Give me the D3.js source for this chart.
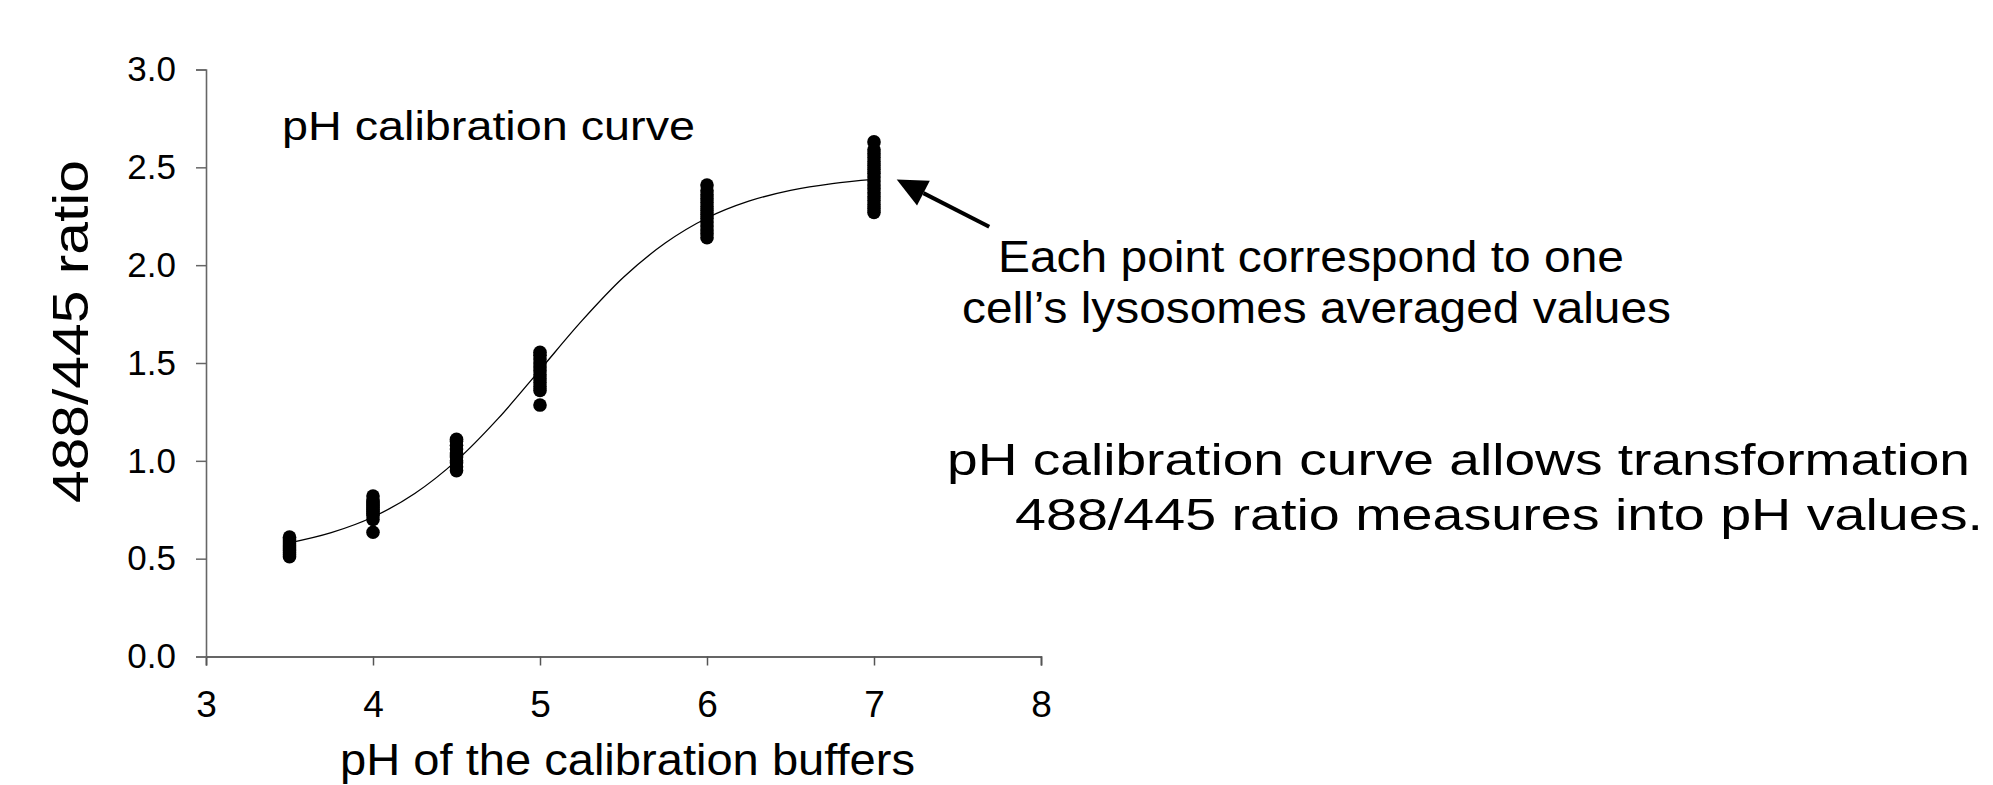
<!DOCTYPE html>
<html>
<head>
<meta charset="utf-8">
<title>pH calibration curve</title>
<script src="https://cdn.jsdelivr.net/npm/d3@7"></script>
<style>
  html, body { margin: 0; padding: 0; background: #fff; }
  svg { display: block; font-family: "Liberation Sans", Arial, sans-serif; }
</style>
</head>
<body>
<svg id="chart" width="1993" height="785"></svg>
<script>
"use strict";

// buffer pH values and the 488/445 ratios measured per cell
var bufferPH = [3.5, 4, 4.5, 5, 6, 7];
var ratios = [
  [0.51, 0.52, 0.53, 0.54, 0.55, 0.56, 0.57, 0.58, 0.59, 0.60, 0.61],
  [0.635, 0.70, 0.72, 0.73, 0.74, 0.75, 0.76, 0.77, 0.78, 0.79, 0.80, 0.82],
  [0.95, 0.97, 0.99, 1.00, 1.02, 1.03, 1.04, 1.06, 1.08, 1.10, 1.11],
  [1.285, 1.36, 1.38, 1.40, 1.42, 1.44, 1.46, 1.48, 1.50, 1.52, 1.54, 1.555],
  [2.14, 2.16, 2.18, 2.20, 2.22, 2.24, 2.26, 2.28, 2.30, 2.32, 2.34, 2.36, 2.38, 2.41],
  [2.27, 2.29, 2.31, 2.33, 2.35, 2.37, 2.39, 2.41, 2.43, 2.45, 2.47, 2.49, 2.51,
   2.53, 2.55, 2.57, 2.59, 2.63]
];

// fitted calibration curve
var curvePH = [3.5, 3.75, 4, 4.25, 4.5, 4.75, 5, 5.25, 5.5, 5.75, 6, 6.25, 6.5, 6.75, 7];
var curveRatio = [0.581, 0.633, 0.713, 0.833, 1.001, 1.217, 1.465, 1.715, 1.938,
                  2.113, 2.241, 2.327, 2.382, 2.417, 2.438];

var xTicks = [3, 4, 5, 6, 7, 8];
var yTicks = [0, 0.5, 1, 1.5, 2, 2.5, 3];

// arrow from the note to the pH 7 cluster, in data units
var arrowTail = [7.69, 2.196];
var arrowTip = [7.136, 2.438];

var svg = d3.select('#chart');

var x = d3.scaleLinear().domain([3, 8]).range([206, 1041]);
var y = d3.scaleLinear().domain([0, 3]).range([656.5, 69.5]);

svg.append('rect').attr('width', 1993).attr('height', 785).attr('fill', '#fff');

// axes
var xAxis = svg.append('g')
    .attr('transform', 'translate(0,' + y(0) + ')')
    .call(d3.axisBottom(x).tickValues(xTicks).tickSize(9).tickPadding(25)
      .tickFormat(d3.format('d')));
xAxis.select('.domain').attr('stroke', '#333').attr('stroke-width', 1.6);
xAxis.selectAll('.tick line').attr('stroke', '#555').attr('stroke-width', 1.5);
xAxis.selectAll('.tick text')
    .attr('font-size', 37).attr('fill', '#000').attr('dy', '0.71em')
    .attr('font-family', '"Liberation Sans", Arial, sans-serif');

var yAxis = svg.append('g')
    .attr('transform', 'translate(' + x(3) + ',0)')
    .call(d3.axisLeft(y).tickValues(yTicks).tickSize(10).tickPadding(20)
      .tickFormat(d3.format('.1f')));
yAxis.select('.domain').attr('stroke', '#666').attr('stroke-width', 1.6);
yAxis.selectAll('.tick line').attr('stroke', '#666').attr('stroke-width', 1.5);
yAxis.selectAll('.tick text')
    .attr('font-size', 35).attr('fill', '#000')
    .attr('font-family', '"Liberation Sans", Arial, sans-serif');

// calibration curve
var line = d3.line()
    .x(function (d) { return x(d[0]); })
    .y(function (d) { return y(d[1]); })
    .curve(d3.curveMonotoneX);

svg.append('path')
    .datum(d3.zip(curvePH, curveRatio))
    .attr('d', line)
    .attr('fill', 'none')
    .attr('stroke', '#000')
    .attr('stroke-width', 1.3);

// one dot per cell
var points = [];
bufferPH.forEach(function (ph, i) {
  ratios[i].forEach(function (r) { points.push([ph, r]); });
});

svg.append('g').selectAll('circle')
    .data(points)
    .enter()
    .append('circle')
    .attr('cx', function (d) { return x(d[0]); })
    .attr('cy', function (d) { return y(d[1]); })
    .attr('r', 6.8)
    .attr('fill', '#000');

// arrow
var tip = [x(arrowTip[0]), y(arrowTip[1])];
var tail = [x(arrowTail[0]), y(arrowTail[1])];
var len = Math.hypot(tail[0] - tip[0], tail[1] - tip[1]);
var ux = (tail[0] - tip[0]) / len, uy = (tail[1] - tip[1]) / len;
var headLen = 30, headHalf = 14;
var base = [tip[0] + ux * headLen, tip[1] + uy * headLen];

svg.append('line')
    .attr('x1', tail[0]).attr('y1', tail[1])
    .attr('x2', base[0]).attr('y2', base[1])
    .attr('stroke', '#000').attr('stroke-width', 4);

svg.append('path')
    .attr('d', 'M' + tip[0] + ',' + tip[1] +
      'L' + (base[0] - uy * headHalf) + ',' + (base[1] + ux * headHalf) +
      'L' + (base[0] + uy * headHalf) + ',' + (base[1] - ux * headHalf) + 'Z')
    .attr('fill', '#000');

// texts
function label(txt, tx, ty, size, width) {
  return svg.append('text')
      .attr('x', tx).attr('y', ty)
      .attr('font-size', size)
      .attr('fill', '#000')
      .attr('textLength', width)
      .attr('lengthAdjust', 'spacingAndGlyphs')
      .text(txt);
}

label('pH calibration curve', 282, 140, 40, 413);
label('pH of the calibration buffers', 340, 775, 44, 575);

svg.append('text')
    .attr('transform', 'translate(88,331.5) rotate(-90)')
    .attr('text-anchor', 'middle')
    .attr('font-size', 50)
    .attr('textLength', 343)
    .attr('lengthAdjust', 'spacingAndGlyphs')
    .text('488/445 ratio');

label('Each point correspond to one', 998, 272, 45, 626);
label('cell\u2019s lysosomes averaged values', 962, 323, 45, 709);

label('pH calibration curve allows transformation', 947, 475, 45, 1023);
label('488/445 ratio measures into pH values.', 1015, 530, 45, 968);
</script>
</body>
</html>
